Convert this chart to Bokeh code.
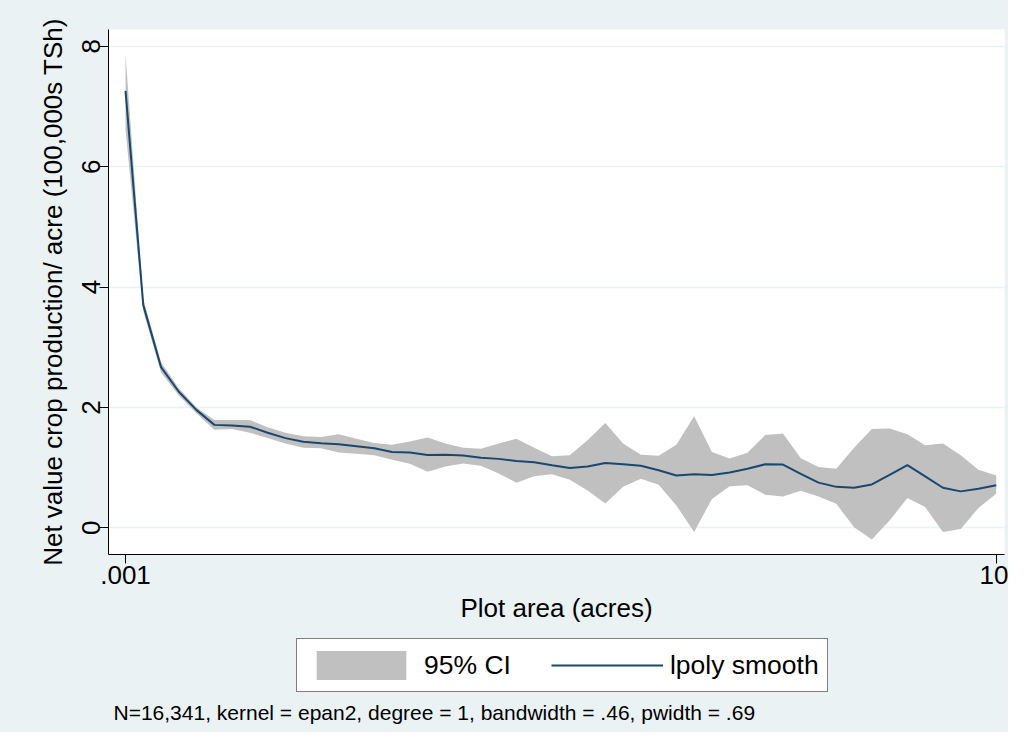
from bokeh.plotting import figure
from bokeh.layouts import column
from bokeh.models import (FixedTicker, Legend, LegendItem, Label, ColumnDataSource, Range1d)
from bokeh.embed import file_html
from bokeh.resources import INLINE

# ---- data ----
plot_area = [0.001, 0.0012067, 0.0014563, 0.0017575, 0.002121, 0.0025595, 0.0030888, 0.0037276,
             0.0044984, 0.0054287, 0.0065513, 0.007906, 0.009541, 0.011514, 0.013895, 0.016768,
             0.020236, 0.024421, 0.029471, 0.035565, 0.042919, 0.051795, 0.062506, 0.075431,
             0.091029, 0.10985, 0.13257, 0.15999, 0.19307, 0.233, 0.28118, 0.33932, 0.40949,
             0.49417, 0.59636, 0.71969, 0.86851, 1.0481, 1.2649, 1.5264, 1.8421, 2.223, 2.6827,
             3.2375, 3.9069, 4.7149, 5.6899, 6.8665, 8.2864, 10.0]
smooth = [7.26, 3.70, 2.67, 2.26, 1.955, 1.71, 1.70, 1.68, 1.58, 1.49,
          1.43, 1.405, 1.39, 1.355, 1.32, 1.26, 1.25, 1.21, 1.215, 1.20,
          1.165, 1.145, 1.11, 1.09, 1.04, 0.995, 1.02, 1.077, 1.055, 1.03,
          0.955, 0.87, 0.89, 0.877, 0.92, 0.98, 1.055, 1.05, 0.895, 0.75,
          0.68, 0.665, 0.72, 0.88, 1.04, 0.855, 0.665, 0.605, 0.65, 0.705]
ci_upper = [7.87, 3.80, 2.75, 2.32, 2.00, 1.79, 1.79, 1.79, 1.67, 1.58,
            1.52, 1.51, 1.555, 1.48, 1.41, 1.38, 1.435, 1.50, 1.40, 1.33,
            1.315, 1.40, 1.48, 1.33, 1.19, 1.205, 1.455, 1.74, 1.40, 1.215,
            1.195, 1.38, 1.855, 1.26, 1.15, 1.245, 1.54, 1.565, 1.155, 1.01,
            0.98, 1.33, 1.64, 1.65, 1.555, 1.37, 1.40, 1.205, 0.965, 0.87]
ci_lower = [6.62, 3.60, 2.58, 2.20, 1.90, 1.63, 1.64, 1.58, 1.49, 1.40,
            1.33, 1.32, 1.25, 1.23, 1.205, 1.13, 1.065, 0.93, 1.02, 1.07,
            1.03, 0.90, 0.75, 0.855, 0.89, 0.80, 0.62, 0.405, 0.68, 0.815,
            0.715, 0.37, -0.07, 0.48, 0.69, 0.705, 0.55, 0.52, 0.615, 0.52,
            0.40, 0.01, -0.195, 0.12, 0.495, 0.345, -0.07, -0.02, 0.33, 0.565]
x_ticks = [0.001, 10]
x_tick_labels = [".001", "10"]
y_ticks = [0, 2, 4, 6, 8]
legend_labels = ["95% CI", "lpoly smooth"]
note = "N=16,341, kernel = epan2, degree = 1, bandwidth = .46, pwidth = .69"

FONT = "Liberation Sans"
BG = "#EAF2F3"
BAND = "#C0C0C0"
NAVY = "#1A476F"

src = ColumnDataSource(dict(x=plot_area, y=smooth, lo=ci_lower, hi=ci_upper))

# ---- main plot ----
p = figure(width=1008, height=632, x_axis_type="log",
           x_range=Range1d(10 ** -3.0782, 10 ** 1.038), y_range=Range1d(-0.444, 8.28),
           output_backend="svg", toolbar_location=None,
           min_border_left=108, min_border_right=4, min_border_top=29, min_border_bottom=78)
p.border_fill_color = BG
p.background_fill_color = "white"
p.outline_line_color = None

p.varea(x="x", y1="lo", y2="hi", source=src, fill_color=BAND, fill_alpha=1.0)
p.line(x="x", y="y", source=src, line_color=NAVY, line_width=2)

p.xaxis.ticker = FixedTicker(ticks=x_ticks)
p.xaxis.major_label_overrides = {t: l for t, l in zip(x_ticks, x_tick_labels)}
p.yaxis.ticker = FixedTicker(ticks=y_ticks)
p.yaxis.major_label_orientation = "vertical"
p.xaxis.axis_label = "Plot area (acres)"
p.yaxis.axis_label = "Net value crop production/ acre (100,000s TSh)"
for ax in (p.xaxis, p.yaxis):
    ax.axis_line_color = "black"
    ax.axis_line_width = 1
    ax.major_tick_line_color = "black"
    ax.major_tick_out = 9
    ax.major_tick_in = 0
    ax.minor_tick_line_color = None
    ax.major_label_text_font = FONT
    ax.major_label_text_font_size = "26px"
    ax.major_label_text_color = "black"
    ax.axis_label_text_font = FONT
    ax.axis_label_text_font_size = "26px"
    ax.axis_label_text_font_style = "normal"
    ax.axis_label_text_color = "black"
p.xaxis.major_label_standoff = 2
p.xaxis.axis_label_standoff = 6
p.yaxis.major_label_standoff = -1
p.yaxis.axis_label_standoff = 12

p.xgrid.grid_line_color = None
p.ygrid.ticker = FixedTicker(ticks=y_ticks)
p.ygrid.grid_line_color = BG
p.ygrid.grid_line_width = 1.5

# ---- legend + note strip ----
q = figure(width=1008, height=100, x_range=Range1d(0, 1), y_range=Range1d(0, 1),
           output_backend="svg", toolbar_location=None,
           min_border_left=0, min_border_right=0, min_border_top=0, min_border_bottom=0)
q.axis.visible = False
q.grid.visible = False
q.border_fill_color = BG
q.background_fill_color = BG
q.outline_line_color = None
# legend keys: same series, styled as in the plot, hidden from the strip itself
key_band = q.varea(x="x", y1="lo", y2="hi", source=src, fill_color=BAND, fill_alpha=1.0,
                   visible=False)
key_line = q.line(x="x", y="y", source=src, line_color=NAVY, line_width=2, visible=False)

legend = Legend(items=[LegendItem(label=legend_labels[0], renderers=[key_band]),
                       LegendItem(label=legend_labels[1], renderers=[key_line])],
                location=(188, 40), orientation="horizontal",
                border_line_color="black", border_line_width=1,
                background_fill_color="white", background_fill_alpha=1.0,
                inactive_fill_alpha=0.0,
                label_text_font=FONT, label_text_font_size="26.5px", label_text_color="black",
                glyph_width=112, glyph_height=36, label_height=30,
                padding=8, spacing=40, label_standoff=7, margin=0)
q.add_layout(legend)

q.add_layout(Label(x=5, y=20, x_units="screen", y_units="screen", text=note,
                   text_font=FONT, text_font_size="21px", text_baseline="middle",
                   text_color="black"))

layout = column(p, q, spacing=0, styles={"background-color": BG})
html = file_html(layout, INLINE)
html = html.replace("<body>", '<body style="background-color:%s">' % BG, 1)
open("out.html", "w").write(html)
